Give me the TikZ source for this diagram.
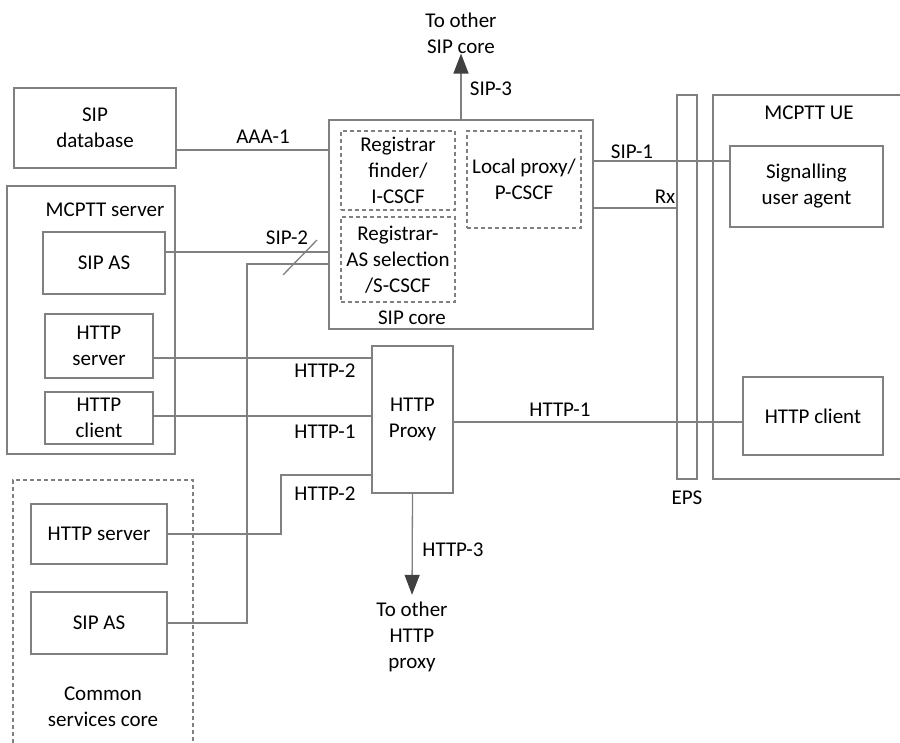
\documentclass[tikz,border=0pt]{standalone}
\usepackage{fontspec}
\setmainfont{Carlito}
\usepackage{xcolor}
\usepackage{tikz}
\usetikzlibrary{positioning}
\usetikzlibrary{arrows.meta}
\usetikzlibrary{calc}
\definecolor{linegray}{RGB}{128,128,128}
\definecolor{tipgray}{RGB}{64,64,64}
\tikzstyle{blk}=[rectangle,draw=linegray,line width=1.3bp,align=center,inner sep=0pt]
\tikzstyle{dblk}=[blk,dash pattern=on 4bp off 3bp]
\tikzstyle{edge} = [draw,linegray,line width=1.3bp]
\tikzstyle{outedge} = [edge,-{Triangle[width=15bp,length=20bp,color=tipgray]}]
\tikzstyle{txt} = [align=center,inner sep=0pt]

\begin{document}
\begin{tikzpicture}[x=1bp,y=-1bp,font=\fontsize{21bp}{26bp}\selectfont]

 \useasboundingbox (0,0) rectangle (900,743);

 %containers
 \foreach \x/\y/\w/\h/\name in {91/320/168/268/mcsrv, 461/224.5/264/209/sipcore, 687/287/20/384/eps}
          \node[blk,minimum width=\w bp,minimum height=\h bp] (\name) at (\x,\y) {};

 \draw[edge] (900,95) -| (713,479) -- (900,479);
 \draw[edge,dash pattern=on 4bp off 3bp] (13,743) |- (193,480) -- (193,743);

 %boxes
 \foreach \x/\y/\w/\h/\name/\label in {95/128/162/80/sipdb/{SIP\\database},
          104/263/122/62/srvsip/{SIP AS}, 99/346/108/64/srvhs/{HTTP\\server}, 99/418/108/52/srvhc/{HTTP\\client},
          99/534/136/60/cshs/{HTTP server}, 99/623/136/62/cssip/{SIP AS},
          412.5/419.5/81/147/proxy/{HTTP\\Proxy},
          806.5/186.5/153/81/sua/{Signalling\\user agent}, 813/416/140/78/uehc/{HTTP client}}
          \node[blk,minimum width=\w bp,minimum height=\h bp] (\name) at (\x,\y) {\label};

 %inside SIP core
 \foreach \x/\y/\w/\h/\name/\label in {398/170.5/114/79/icscf/{Registrar\\finder/\\I-CSCF},
          398/259.5/114/85/scscf/{Registrar-\\AS selection\\/S-CSCF}, 524/179.5/114/97/pcscf/{Local proxy/\\P-CSCF}}
          \node[dblk,minimum width=\w bp,minimum height=\h bp] (\name) at (\x,\y) {\label};

 %titles
 \foreach \x/\y/\name/\label in {105/210/tsrv/{MCPTT server}, 412/318/tcore/{SIP core}, 103/707/tcs/{Common\\services core},
          809/113/tue/{MCPTT UE}, 687/498/teps/EPS, 461/33/tsip3/{To other\\SIP core}, 412/637/thttp3/{To other\\HTTP\\proxy}}
          \node[txt] (\name) at (\x,\y) {\label};

 %reference points
 \foreach \x/\y/\label in {263/137/AAA-1, 287/238/SIP-2, 325/371/HTTP-2, 325/432/HTTP-1, 325/494/HTTP-2,
          560/410/HTTP-1, 453/550/HTTP-3, 491/89/SIP-3, 632/152/SIP-1, 665/197/Rx}
          \node[txt] at (\x,\y) {\label};

 %links
 \path[edge] (sipdb.east |- 0,150) -- (sipcore.west |- 0,150);
 \path[edge] (srvsip.east |- 0,252) -- (sipcore.west |- 0,252);
 \path[edge] (cssip.east) -| (247,264) -- (sipcore.west |- 0,264);
 \path[edge] (283,275) -- (317,240);
 \path[edge] (srvhs.east |- 0,358) -- (proxy.west |- 0,358);
 \path[edge] (srvhc.east |- 0,416) -- (proxy.west |- 0,416);
 \path[edge] (cshs.east) -| (281,475) -- (proxy.west |- 0,475);
 \path[edge] (proxy.east |- 0,422) -- (uehc.west |- 0,422);
 \path[edge] (sipcore.east |- 0,161) -- (sua.west |- 0,161);
 \path[edge] (sipcore.east |- 0,208) -- (eps.west |- 0,208);

 \path[outedge,shorten >=7bp] (proxy.south) -- (thttp3.north);
 \path[outedge] (sipcore.north) -- (tsip3.south);

\end{tikzpicture}
\end{document}
